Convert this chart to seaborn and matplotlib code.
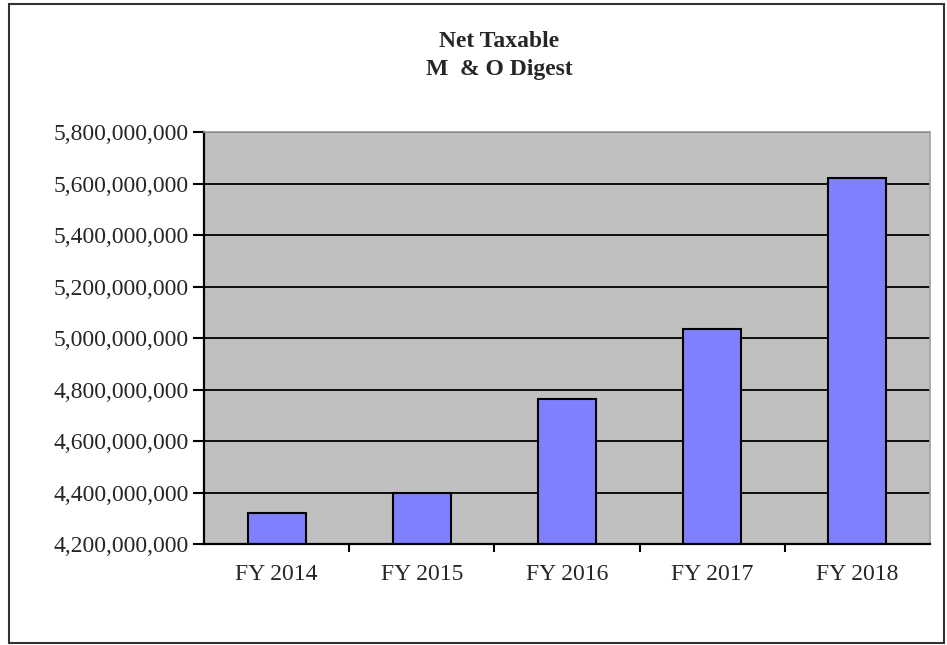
import matplotlib
matplotlib.use("Agg")
import matplotlib.pyplot as plt
import matplotlib.ticker as mticker
from matplotlib.patches import Rectangle
import pandas as pd
import seaborn as sns

# data
years = ["FY 2014", "FY 2015", "FY 2016", "FY 2017", "FY 2018"]
net_taxable = [4_323_000_000, 4_398_000_000, 4_765_000_000, 5_037_000_000, 5_621_000_000]
y_ticks = [4_200_000_000 + i * 200_000_000 for i in range(9)]

df = pd.DataFrame({"year": years, "value": net_taxable})

sns.set_style("white")
plt.rcParams["font.family"] = ["Liberation Serif", "DejaVu Serif"]

fig = plt.figure(figsize=(9.47, 6.45), dpi=100)
ax = fig.add_axes([0.2154, 0.1561, 0.7666, 0.6392])
ax.set_facecolor("#C0C0C0")

# horizontal gridlines behind bars
ax.set_axisbelow(True)
ax.yaxis.grid(True, color="black", linewidth=1.3)
ax.xaxis.grid(False)

sns.barplot(data=df, x="year", y="value", color="#8080FF", width=0.4,
            saturation=1, edgecolor="black", linewidth=1.5, ax=ax)

ax.set_ylim(y_ticks[0], y_ticks[-1])
ax.set_yticks(y_ticks)
ax.yaxis.set_major_formatter(mticker.FuncFormatter(lambda v, p: f"{v:,.0f}"))
ax.set_xlim(-0.5, len(years) - 0.5)

# x ticks sit between categories, labels centred under bars
ax.set_xticks([i + 0.5 for i in range(len(years) - 1)], minor=False)
ax.set_xticklabels([])
ax.set_xticks(range(len(years)), minor=True)
ax.set_xticklabels(years, minor=True)
ax.tick_params(axis="x", which="minor", length=0, pad=14, labelsize=17)
ax.tick_params(axis="x", which="major", length=6, width=1.5, color="black",
               direction="out", bottom=True)
ax.tick_params(axis="y", length=8, width=1.5, color="black", direction="out",
               left=True, pad=3, labelsize=17)

ax.set_xlabel("")
ax.set_ylabel("")

for side in ["left", "bottom"]:
    ax.spines[side].set_color("black")
    ax.spines[side].set_linewidth(1.6)
for side in ["top", "right"]:
    ax.spines[side].set_color("#A0A0A0")
    ax.spines[side].set_linewidth(1.2)

fig.text(0.527, 0.935, "Net Taxable", ha="center", va="center",
         fontsize=17, fontweight="bold")
fig.text(0.527, 0.892, "M  & O Digest", ha="center", va="center",
         fontsize=17, fontweight="bold")

# outer chart border
fig.patches.append(Rectangle((9 / 947, 2 / 645), 935 / 947, 639 / 645,
                             transform=fig.transFigure, fill=False,
                             edgecolor="#333333", linewidth=1.5))

fig.savefig("out.png", dpi=100)
